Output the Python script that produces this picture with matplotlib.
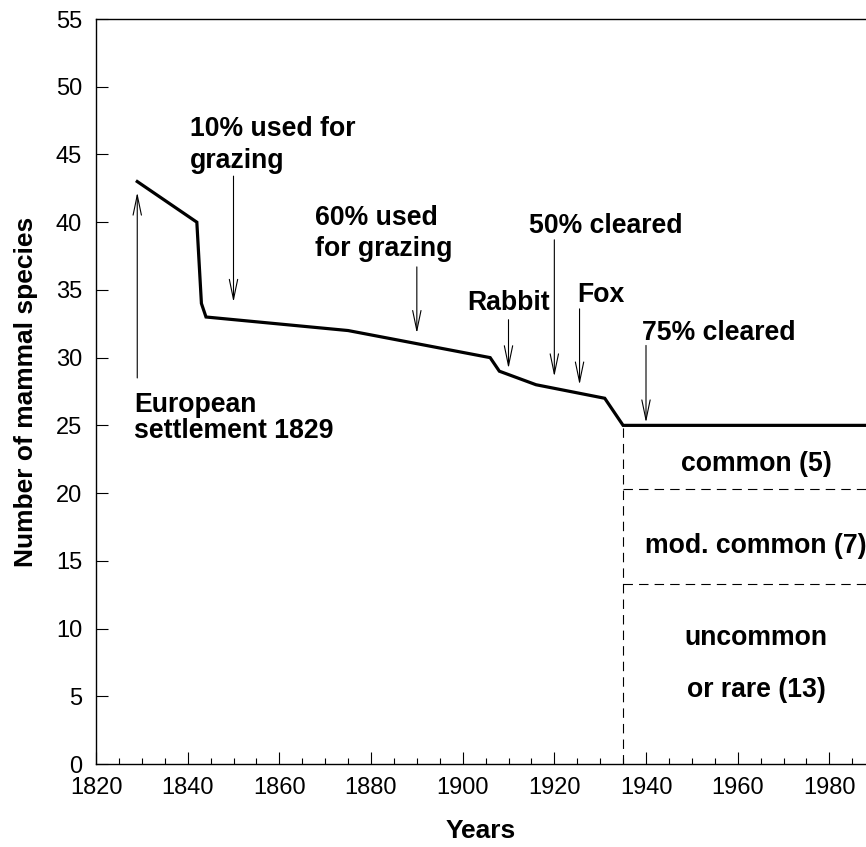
import matplotlib
matplotlib.use("Agg")
import matplotlib.pyplot as plt

plt.rcParams['font.family'] = ['Liberation Sans', 'DejaVu Sans']

# Data
years = [1829, 1842, 1843, 1844, 1875, 1906, 1908, 1916, 1931, 1935, 1988]
species = [43, 40, 34, 33, 32, 30, 29, 28, 27, 25, 25]

# annotations: (label lines, text x, baselines, arrow x, arrow tail y, arrow head y)
ann_labels = [["10% used for", "grazing"], ["60% used", "for grazing"],
              ["Rabbit"], ["50% cleared"], ["Fox"], ["75% cleared"]]
ann_text_x = [1840.5, 1867.8, 1900.9, 1914.5, 1925.0, 1939.1]
ann_text_y = [[46.36, 44.0], [39.8, 37.5], [33.5], [39.2], [34.1], [31.3]]
arrow_x = [1850, 1890, 1910, 1920, 1925.5, 1940]
arrow_tail = [43.4, 36.7, 32.8, 38.7, 33.6, 30.9]
arrow_head = [34.1, 31.8, 29.2, 28.6, 28.0, 25.2]

settle_x = 1829
settle_tail = 28.5
settle_head = 42.2
settle_labels = ["European", "settlement 1829"]
settle_text_y = [26.0, 24.07]

split_year = 1935
split_levels = [20.3, 13.3]
group_labels = ["common (5)", "mod. common (7)", "uncommon", "or rare (13)"]
group_y = [21.6, 15.6, 8.8, 4.97]
group_x = 1964

fig = plt.figure(figsize=(8.66, 8.47), dpi=100)
ax = fig.add_axes([96/866, 1-764/847, 1-96/866, (764-19)/847])

ax.plot(years, species, color='black', lw=2.3, solid_joinstyle='miter', zorder=3)

FS = 19.2
arrowprops = dict(arrowstyle='->,head_length=1.2,head_width=0.25', mutation_scale=12,
                  color='black', lw=0.8, shrinkA=0, shrinkB=0)
for lines, tx, tys, axx, t, h in zip(ann_labels, ann_text_x, ann_text_y, arrow_x, arrow_tail, arrow_head):
    for line, ty in zip(lines, tys):
        ax.text(tx, ty, line, fontsize=FS, fontweight='bold', ha='left', va='baseline')
    ax.annotate('', xy=(axx, h), xytext=(axx, t), arrowprops=arrowprops)

ax.annotate('', xy=(settle_x, settle_head), xytext=(settle_x, settle_tail), arrowprops=arrowprops)
for line, ty in zip(settle_labels, settle_text_y):
    ax.text(1828.3, ty, line, fontsize=FS, fontweight='bold', ha='left', va='baseline')

dash = (0, (8.5, 5.5))
ax.plot([split_year, split_year], [0, 25], color='black', lw=0.8, linestyle=dash)
for lv in split_levels:
    ax.plot([split_year, 1988], [lv, lv], color='black', lw=0.8, linestyle=dash)
for lab, gy in zip(group_labels, group_y):
    ax.text(group_x, gy, lab, fontsize=FS, fontweight='bold', ha='center', va='baseline')

ax.set_xlim(1820, 1988)
ax.set_ylim(0, 55)
ax.set_xticks(range(1820, 1981, 20))
ax.set_xticks(range(1820, 1988, 5), minor=True)
ax.set_yticks(range(0, 56, 5))
ax.tick_params(axis='both', which='major', direction='in', length=8.5, width=0.8,
               labelsize=17, pad=9)
ax.tick_params(axis='x', which='minor', direction='in', length=4.3, width=0.8)
ax.tick_params(axis='y', which='major', pad=10)
ax.spines['right'].set_visible(False)
for s in ['left', 'bottom', 'top']:
    ax.spines[s].set_linewidth(1.0)

ax.set_xlabel('Years', fontsize=19, fontweight='bold', labelpad=15)
ax.set_ylabel('Number of mammal species', fontsize=19, fontweight='bold', labelpad=13)

fig.savefig('out.png', dpi=100)
